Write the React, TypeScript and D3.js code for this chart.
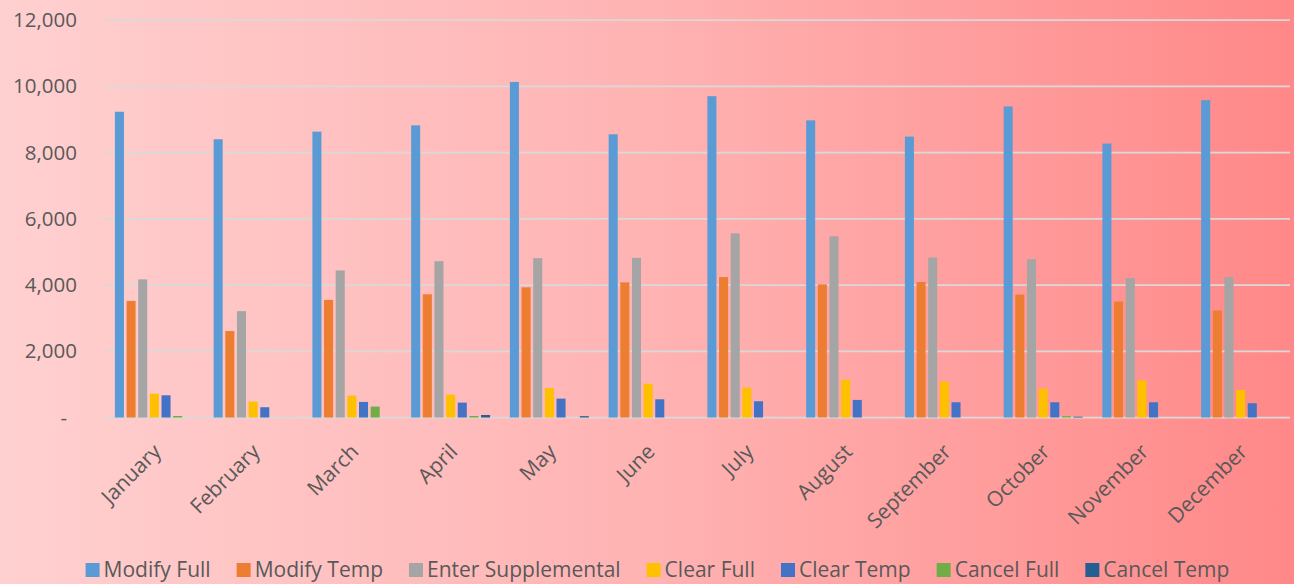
import React, { useEffect, useRef } from "react";
import * as d3 from "d3";

const months = ["January", "February", "March", "April", "May", "June", "July", "August", "September", "October", "November", "December"];
const seriesNames = ["Modify Full", "Modify Temp", "Enter Supplemental", "Clear Full", "Clear Temp", "Cancel Full", "Cancel Temp"];
const seriesColors = ["#5B9BD5", "#ED7D31", "#A5A5A5", "#FFC000", "#4472C4", "#70AD47", "#255E91"];

const modifyFull = [9230, 8400, 8630, 8820, 10130, 8550, 9700, 8970, 8480, 9390, 8270, 9580];
const modifyTemp = [3520, 2610, 3550, 3720, 3930, 4080, 4240, 4020, 4090, 3710, 3500, 3230];
const enterSupplemental = [4170, 3210, 4440, 4720, 4810, 4820, 5560, 5470, 4830, 4780, 4210, 4240];
const clearFull = [720, 480, 660, 690, 890, 1020, 900, 1140, 1080, 870, 1120, 830];
const clearTemp = [670, 310, 470, 450, 570, 550, 490, 530, 460, 460, 460, 430];
const cancelFull = [45, 0, 330, 45, 0, 0, 0, 0, 0, 40, 0, 0];
const cancelTemp = [0, 0, 0, 75, 40, 0, 0, 0, 0, 25, 0, 0];

const yTicks = [0, 2000, 4000, 6000, 8000, 10000, 12000];

const W = 1294;
const H = 584;
const FONT = "'Open Sans', 'Segoe UI', sans-serif";
const TEXT = "#595959";

export default function App() {
  const ref = useRef<SVGSVGElement | null>(null);

  useEffect(() => {
    document.body.style.margin = "0";
    const svg = d3.select(ref.current);
    svg.selectAll("*").remove();

    const values = [modifyFull, modifyTemp, enterSupplemental, clearFull, clearTemp, cancelFull, cancelTemp];

    const defs = svg.append("defs");
    const grad = defs.append("linearGradient").attr("id", "bg").attr("x1", "0").attr("x2", "1").attr("y1", "0").attr("y2", "0");
    grad.append("stop").attr("offset", "0").attr("stop-color", "#FFD0D0");
    grad.append("stop").attr("offset", "0.5").attr("stop-color", "#FFB3B3");
    grad.append("stop").attr("offset", "1").attr("stop-color", "#FF8888");
    svg.append("rect").attr("width", W).attr("height", H).attr("fill", "url(#bg)");

    const x0 = d3.scaleBand<string>().domain(months).range([105, 1290]).paddingInner(0).paddingOuter(0);
    const bw0 = x0.bandwidth();
    const x1 = d3.scaleBand<string>().domain(seriesNames).range([9.9, bw0 - 9.9]).paddingInner(0.224).paddingOuter(0);
    const y = d3.scaleLinear().domain([0, 12000]).range([417.5, 20]);

    // gridlines
    svg.append("g").selectAll("line").data(yTicks).join("line")
      .attr("x1", 105).attr("x2", 1290)
      .attr("y1", (d) => y(d)).attr("y2", (d) => y(d))
      .attr("stroke", "#D9D9D9").attr("stroke-width", 1.75);

    // y labels
    svg.append("g").selectAll("text").data(yTicks).join("text")
      .attr("x", (d) => (d === 0 ? 67 : 77))
      .attr("y", (d) => y(d))
      .attr("dy", "0.35em")
      .attr("text-anchor", "end")
      .attr("font-family", FONT).attr("font-size", 20.5).attr("fill", TEXT)
      .text((d) => (d === 0 ? "-" : d3.format(",")(d)));

    // bars
    const groups = svg.append("g").selectAll("g").data(months).join("g")
      .attr("transform", (m) => `translate(${x0(m)},0)`);
    groups.selectAll("rect")
      .data((m, i) => seriesNames.map((s, si) => ({ s, v: values[si][i], c: seriesColors[si] })))
      .join("rect")
      .attr("x", (d) => x1(d.s)!)
      .attr("width", x1.bandwidth())
      .attr("y", (d) => y(d.v))
      .attr("height", (d) => y(0) - y(d.v))
      .attr("fill", (d) => d.c);

    // x labels
    svg.append("g").selectAll("text").data(months).join("text")
      .attr("transform", (m) => `translate(${x0(m)! + bw0 / 2 + 8},453) rotate(-45)`)
      .attr("text-anchor", "end")
      .attr("font-family", FONT).attr("font-size", 21).attr("fill", TEXT)
      .text((m) => m);

    // legend
    const lg = svg.append("g");
    const items = lg.selectAll("g").data(seriesNames).join("g");
    items.append("rect").attr("width", 14).attr("height", 14).attr("y", 563)
      .attr("fill", (d, i) => seriesColors[i]);
    const texts = items.append("text").attr("x", 18).attr("y", 577)
      .attr("font-family", FONT).attr("font-size", 21).attr("fill", TEXT)
      .text((d) => d);
    const widths: number[] = [];
    texts.each(function () { widths.push((this as SVGTextElement).getComputedTextLength()); });
    const gap = 26;
    const total = widths.reduce((a, w) => a + 18 + w, 0) + gap * (widths.length - 1);
    let cx = 657.5 - total / 2;
    items.attr("transform", (d, i) => {
      const t = `translate(${cx},0)`;
      cx += 18 + widths[i] + gap;
      return t;
    });
  }, []);

  return <svg ref={ref} width={W} height={H} style={{ display: "block" }} />;
}
